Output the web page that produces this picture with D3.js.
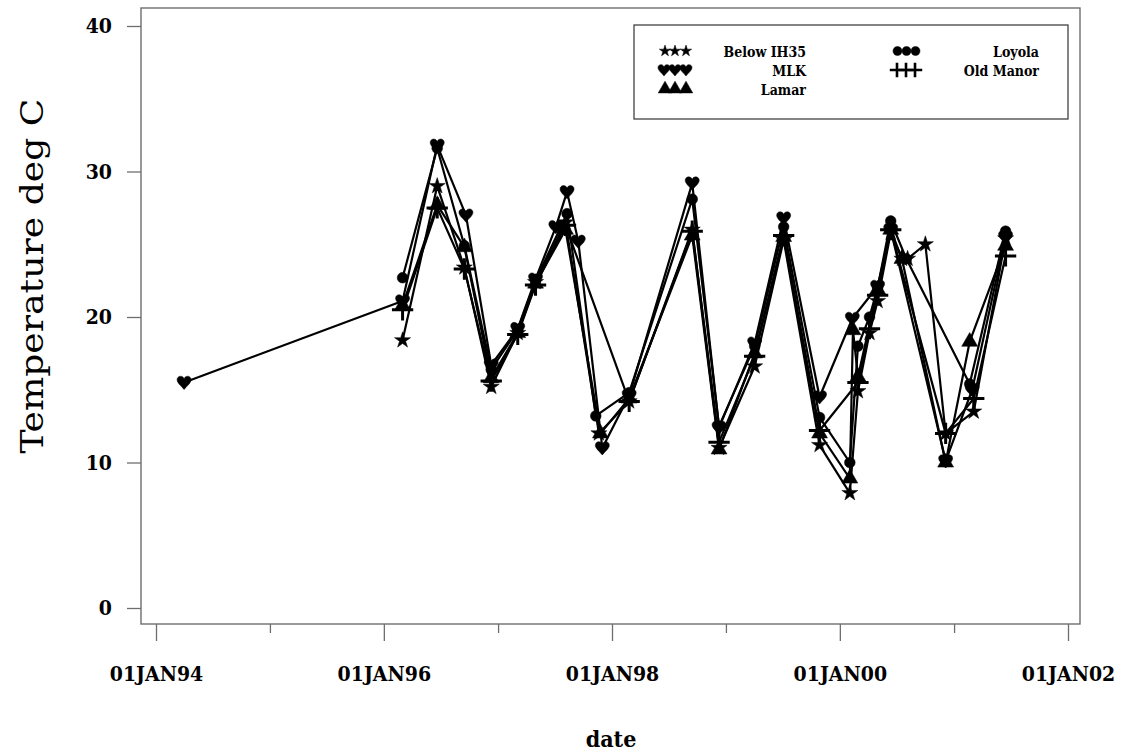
<!DOCTYPE html>
<html>
<head>
<meta charset="utf-8">
<script src="https://cdn.jsdelivr.net/npm/d3@7"></script>
<style>
  body { margin: 0; background: #fff; }
  svg { display: block; font-family: "DejaVu Serif Condensed", "DejaVu Serif", serif; }
</style>
</head>
<body>
<svg id="chart-svg"></svg>
<script>
// Data (temperature samples per site)
const siteNames = ["Below IH35", "MLK", "Lamar", "Loyola", "Old Manor"];

const belowDates = ["1996-03-01", "1996-06-20", "1996-09-15", "1996-12-10", "1997-03-05", "1997-05-01", "1997-08-05", "1997-11-20", "1998-02-25", "1998-09-15", "1998-12-10", "1999-04-03", "1999-07-05", "1999-10-28", "2000-02-02", "2000-02-28", "2000-04-05", "2000-05-01", "2000-06-12", "2000-07-18", "2000-08-05", "2000-10-01", "2000-12-05", "2001-03-05", "2001-06-15"];
const belowTemps = [18.4, 29.0, 23.4, 15.2, 18.9, 22.4, 26.5, 12.0, 14.2, 26.0, 11.0, 16.6, 25.3, 11.2, 7.9, 14.9, 18.9, 21.1, 25.8, 24.0, 24.0, 25.0, 12.0, 13.5, 25.4];

const mlkDates = ["1994-04-01", "1996-03-01", "1996-06-20", "1996-09-20", "1996-12-10", "1997-03-05", "1997-05-01", "1997-07-05", "1997-08-10", "1997-09-15", "1997-12-01", "1998-02-25", "1998-09-15", "1998-12-10", "1999-04-03", "1999-07-05", "1999-10-28", "2000-02-10", "2000-05-01", "2000-06-12", "2000-12-05", "2001-02-28", "2001-06-15"];
const mlkTemps = [15.5, 21.1, 31.8, 27.0, 16.7, 19.2, 22.6, 26.2, 28.6, 25.2, 11.0, 14.6, 29.2, 12.4, 18.2, 26.8, 14.5, 19.9, 22.1, 26.0, 10.1, 15.0, 25.5];

const lamarDates = ["1996-03-01", "1996-06-20", "1996-09-15", "1996-12-10", "1997-03-05", "1997-05-01", "1997-08-05", "1997-11-25", "1998-02-25", "1998-09-15", "1998-12-10", "1999-04-03", "1999-07-05", "1999-10-28", "2000-02-02", "2000-02-12", "2000-02-28", "2000-05-01", "2000-06-12", "2000-07-18", "2000-12-05", "2001-02-20", "2001-06-15"];
const lamarTemps = [20.8, 27.7, 24.8, 15.8, 18.9, 22.3, 26.0, 12.0, 14.4, 25.6, 10.9, 17.5, 25.5, 12.0, 8.9, 19.1, 15.9, 21.9, 26.0, 24.0, 10.0, 18.3, 24.9];

const loyolaDates = ["1996-03-01", "1996-06-20", "1996-09-15", "1996-12-10", "1997-03-05", "1997-05-01", "1997-08-10", "1997-11-10", "1998-02-25", "1998-09-15", "1998-12-10", "1999-04-03", "1999-07-05", "1999-10-28", "2000-02-02", "2000-02-28", "2000-04-05", "2000-05-01", "2000-06-12", "2000-08-01", "2001-02-20", "2001-06-15"];
const loyolaTemps = [22.7, 31.6, 24.9, 16.4, 19.1, 22.5, 27.1, 13.2, 14.8, 28.1, 12.5, 18.0, 26.2, 13.1, 10.0, 18.0, 20.0, 22.0, 26.6, 24.0, 15.4, 25.9];

const manorDates = ["1996-03-01", "1996-06-20", "1996-09-15", "1996-12-10", "1997-03-05", "1997-05-01", "1997-08-05", "1998-02-25", "1998-09-15", "1998-12-10", "1999-04-03", "1999-07-05", "1999-10-28", "2000-02-28", "2000-04-05", "2000-05-01", "2000-06-12", "2000-12-05", "2001-03-05", "2001-06-15"];
const manorTemps = [20.5, 27.5, 23.3, 15.6, 18.8, 22.2, 26.3, 14.2, 25.9, 11.4, 17.3, 25.6, 12.2, 15.5, 19.2, 21.5, 26.0, 12.0, 14.4, 24.2];

const yTicks = [0, 10, 20, 30, 40];
const xTickLabels = ["01JAN94", "01JAN96", "01JAN98", "01JAN00", "01JAN02"];

// symboler - hjerte laves selv
const symbolHeart = {
  draw(context, size) {
    const r = Math.sqrt(size) / 2;
    context.moveTo(0, r);
    context.bezierCurveTo(-r * 0.45, r * 0.45, -r, 0.05 * r, -r, -0.4 * r);
    context.bezierCurveTo(-r, -0.95 * r, -0.25 * r, -1.1 * r, 0, -0.55 * r);
    context.bezierCurveTo(0.25 * r, -1.1 * r, r, -0.95 * r, r, -0.4 * r);
    context.bezierCurveTo(r, 0.05 * r, 0.45 * r, 0.45 * r, 0, r);
    context.closePath();
  },
};

const parseDate = d3.timeParse("%Y-%m-%d");
const parseTick = d3.timeParse("%d%b%y");

const series = [
  { name: siteNames[0], dates: belowDates, temps: belowTemps, type: d3.symbolStar, size: 80, legSize: 40, stroke: false },
  { name: siteNames[1], dates: mlkDates, temps: mlkTemps, type: symbolHeart, size: 196, legSize: 144, stroke: false },
  { name: siteNames[2], dates: lamarDates, temps: lamarTemps, type: d3.symbolTriangle, size: 110, legSize: 80, stroke: false },
  { name: siteNames[3], dates: loyolaDates, temps: loyolaTemps, type: d3.symbolCircle, size: 90, legSize: 64, stroke: false },
  { name: siteNames[4], dates: manorDates, temps: manorTemps, type: d3.symbolPlus, size: 150, legSize: 70, stroke: true },
].map((s) => ({
  ...s,
  points: s.dates.map((d, i) => ({ date: parseDate(d), temp: s.temps[i] })),
}));

const svg = d3.select("#chart-svg").attr("width", 1122).attr("height", 754);

// dimensioner
const margin = { top: 8, right: 42, bottom: 130, left: 141 };
const width = 1122 - margin.left - margin.right;
const height = 754 - margin.top - margin.bottom;

const g = svg.append("g").attr("transform", `translate(${margin.left},${margin.top})`);

const majorDates = xTickLabels.map((t) => parseTick(t));

const x = d3.scaleTime().domain([majorDates[0], majorDates[majorDates.length - 1]]).range([15, 927]);
const y = d3.scaleLinear().domain([0, 40]).range([600, 18]);

const minorDates = d3.timeYear.range(majorDates[0], majorDates[majorDates.length - 1]).filter((d) => d.getFullYear() % 2 === 1);

// ramme
g.append("rect")
  .attr("width", width)
  .attr("height", height)
  .attr("fill", "none")
  .attr("stroke", "#6e6e6e")
  .attr("stroke-width", 1.4);

// akser
const yAxis = g.append("g").call(d3.axisLeft(y).tickValues(yTicks).tickSize(14).tickPadding(15));
const xAxis = g.append("g")
  .attr("transform", `translate(0,${height})`)
  .call(d3.axisBottom(x).tickValues(majorDates).tickSize(17).tickPadding(25).tickFormat((d) => d3.timeFormat("%d%b%y")(d).toUpperCase()));
const xMinor = g.append("g")
  .attr("transform", `translate(0,${height})`)
  .call(d3.axisBottom(x).tickValues(minorDates).tickSize(9).tickFormat(""));

[yAxis, xAxis, xMinor].forEach((a) => {
  a.select(".domain").remove();
  a.selectAll("line").attr("stroke", "#6e6e6e").attr("stroke-width", 1.3);
  a.attr("font-family", null).attr("font-size", null);
  a.selectAll("text").attr("font-size", 21).attr("font-weight", "bold").attr("fill", "#000");
});

// linjer og symboler
const line = d3.line().x((d) => x(d.date)).y((d) => y(d.temp));

series.forEach((s) => {
  g.append("path")
    .datum(s.points)
    .attr("fill", "none")
    .attr("stroke", "#000")
    .attr("stroke-width", 2.2)
    .attr("stroke-linejoin", "round")
    .attr("d", line);
});

series.forEach((s) => {
  g.selectAll(null)
    .data(s.points)
    .enter()
    .append("path")
    .attr("transform", (d) => `translate(${x(d.date)},${y(d.temp)})`)
    .attr("d", d3.symbol().type(s.type).size(s.size))
    .attr("fill", s.stroke ? "none" : "#000")
    .attr("stroke", "#000")
    .attr("stroke-width", s.stroke ? 3 : 0.5);
});

// legend
const leg = svg.append("g");
leg.append("rect")
  .attr("x", 634).attr("y", 25).attr("width", 434).attr("height", 94)
  .attr("fill", "#fff").attr("stroke", "#333").attr("stroke-width", 1.2);

const legPos = [
  { sx: [665, 675, 686], sy: 51, tx: 806, ty: 57 },
  { sx: [664, 675, 686], sy: 70, tx: 806, ty: 76 },
  { sx: [665, 675, 686], sy: 89, tx: 806, ty: 95 },
  { sx: [897.5, 906.5, 915.5], sy: 51, tx: 1039, ty: 57 },
  { sx: [897, 906, 915], sy: 70, tx: 1039, ty: 76 },
];

series.forEach((s, i) => {
  const p = legPos[i];
  p.sx.forEach((sx) => {
    leg.append("path")
      .attr("transform", `translate(${sx},${p.sy})`)
      .attr("d", d3.symbol().type(s.type).size(s.legSize))
      .attr("fill", s.stroke ? "none" : "#000")
      .attr("stroke", "#000")
      .attr("stroke-width", s.stroke ? 2.6 : 0.5);
  });
  leg.append("text")
    .attr("x", p.tx).attr("y", p.ty)
    .attr("text-anchor", "end")
    .attr("font-size", 14)
    .attr("font-weight", "bold")
    .text(s.name);
});

// aksetitler
svg.append("text")
  .attr("transform", "translate(43,276) rotate(-90)")
  .attr("text-anchor", "middle")
  .attr("font-size", 31)
  .attr("textLength", 355)
  .attr("lengthAdjust", "spacingAndGlyphs")
  .text("Temperature deg C");

svg.append("text")
  .attr("x", 611).attr("y", 747)
  .attr("text-anchor", "middle")
  .attr("font-size", 23)
  .attr("font-weight", "bold")
  .text("date");
</script>
</body>
</html>
